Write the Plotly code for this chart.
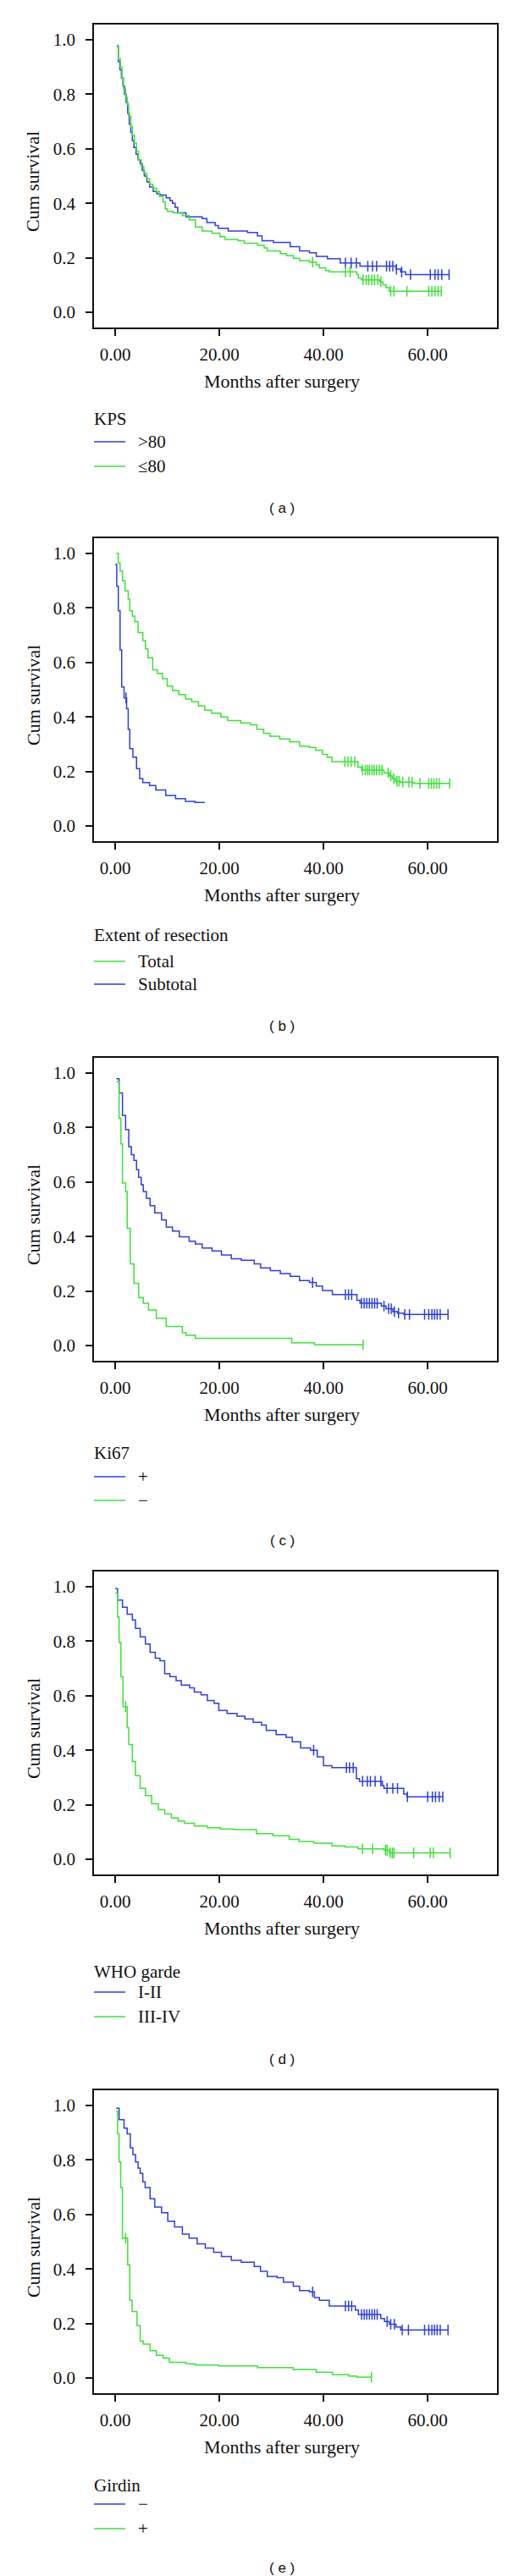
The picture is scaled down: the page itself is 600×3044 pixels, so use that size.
import plotly.graph_objects as go

W, H = 600, 3044
BLUE = "#2f3fd8"
GREEN = "#3fe03a"

# ---------------- data (months, cumulative survival) ----------------
a_blue_t = [0.3, 0.6, 0.9, 1.2, 1.5, 1.8, 2.1, 2.4, 2.7, 3.0, 3.3, 3.6, 4.0, 4.4, 4.8, 5.2, 5.6, 6.1, 6.6, 7.3, 8.0, 8.6, 9.8, 10.5, 11.0, 11.5, 12.0, 13.6, 16.7, 17.6, 19.2, 19.8, 21.7, 25.4, 27.3, 28.2, 30.4, 33.6, 35.4, 37.3, 38.6, 40.75, 43.2, 47.0, 53.9, 54.8, 55.75, 64.1]
a_blue_s = [0.975, 0.92, 0.89, 0.86, 0.83, 0.80, 0.77, 0.73, 0.69, 0.66, 0.63, 0.605, 0.58, 0.56, 0.545, 0.52, 0.50, 0.478, 0.46, 0.443, 0.435, 0.43, 0.42, 0.41, 0.40, 0.385, 0.365, 0.35, 0.344, 0.329, 0.318, 0.308, 0.298, 0.293, 0.28, 0.262, 0.256, 0.241, 0.225, 0.218, 0.205, 0.196, 0.181, 0.169, 0.158, 0.148, 0.138, 0.138]
a_blue_c = [44.2, 45.3, 46.3, 48.5, 49.4, 50.2, 52.1, 52.7, 53.3, 54.0, 55.0, 56.7, 60.5, 61.4, 62.0, 62.7, 64.1]
a_green_t = [0.3, 0.6, 1.0, 1.3, 1.6, 2.0, 2.3, 2.6, 3.0, 3.3, 3.7, 4.1, 4.5, 5.0, 5.5, 6.0, 6.6, 7.2, 7.9, 8.5, 9.2, 9.6, 10.0, 11.1, 12.9, 14.2, 15.4, 16.7, 18.6, 20.1, 21.1, 23.6, 24.8, 27.3, 28.6, 29.2, 31.7, 32.9, 34.2, 35.4, 37.3, 38.6, 39.2, 40.4, 41.1, 46.4, 46.7, 47.3, 50.75, 51.4, 52.0, 52.6, 62.6]
a_green_s = [0.98, 0.93, 0.90, 0.86, 0.82, 0.79, 0.76, 0.72, 0.68, 0.65, 0.62, 0.59, 0.56, 0.535, 0.51, 0.49, 0.47, 0.455, 0.443, 0.425, 0.405, 0.38, 0.37, 0.365, 0.355, 0.339, 0.313, 0.298, 0.29, 0.277, 0.267, 0.262, 0.253, 0.246, 0.236, 0.225, 0.215, 0.208, 0.198, 0.189, 0.184, 0.174, 0.163, 0.153, 0.148, 0.138, 0.125, 0.119, 0.112, 0.101, 0.091, 0.077, 0.077]
a_green_c = [37.9, 44.2, 45.1, 47.6, 48.2, 48.7, 49.3, 49.8, 50.4, 51.0, 52.9, 53.5, 56.0, 60.2, 60.8, 61.4, 62.0, 62.6]

b_total_t = [0.2, 0.6, 0.94, 1.4, 1.9, 2.5, 2.8, 3.3, 3.75, 4.4, 5.3, 5.8, 6.3, 7.2, 8.1, 9.1, 10.0, 11.0, 12.2, 13.5, 14.7, 16.0, 17.2, 18.5, 20.3, 21.6, 24.1, 26.0, 27.2, 28.5, 29.7, 31.6, 33.5, 35.4, 37.3, 38.5, 39.8, 40.7, 41.6, 46.6, 47.3, 51.6, 52.6, 53.2, 53.8, 54.8, 57.3, 64.2]
b_total_s = [1.0, 0.965, 0.936, 0.90, 0.863, 0.832, 0.79, 0.77, 0.75, 0.71, 0.68, 0.65, 0.617, 0.573, 0.56, 0.54, 0.513, 0.497, 0.482, 0.466, 0.456, 0.44, 0.425, 0.414, 0.40, 0.387, 0.378, 0.371, 0.355, 0.34, 0.329, 0.319, 0.309, 0.293, 0.288, 0.278, 0.262, 0.252, 0.236, 0.216, 0.205, 0.195, 0.184, 0.174, 0.164, 0.161, 0.156, 0.156]
b_total_c = [44.1, 44.7, 45.3, 46.0, 47.5, 48.0, 48.4, 48.8, 49.3, 49.7, 50.2, 50.7, 51.2, 52.4, 52.9, 53.5, 54.1, 54.5, 55.2, 56.4, 57.0, 58.5, 60.2, 60.7, 61.2, 61.7, 62.2, 64.2]
b_sub_t = [0.0, 0.3, 0.6, 0.94, 1.25, 1.7, 2.2, 2.5, 2.8, 3.4, 4.1, 4.7, 5.3, 6.6, 7.8, 9.7, 11.6, 13.5, 15.3, 17.2]
b_sub_s = [0.96, 0.88, 0.79, 0.646, 0.51, 0.47, 0.43, 0.355, 0.283, 0.252, 0.21, 0.174, 0.159, 0.148, 0.132, 0.112, 0.10, 0.09, 0.086, 0.086]
b_sub_c = [2.07]

c_pos_t = [0.2, 0.75, 1.4, 2.0, 2.6, 3.1, 3.6, 4.1, 4.5, 5.0, 5.4, 6.0, 6.7, 7.6, 8.9, 9.8, 11.0, 12.3, 14.2, 15.4, 16.7, 18.6, 20.4, 22.3, 24.2, 26.7, 27.9, 29.8, 31.7, 33.6, 35.4, 37.3, 38.6, 39.8, 41.7, 46.4, 47.0, 51.1, 52.0, 53.3, 54.2, 55.4, 63.9]
c_pos_s = [0.979, 0.927, 0.845, 0.793, 0.73, 0.70, 0.679, 0.645, 0.617, 0.59, 0.565, 0.54, 0.513, 0.487, 0.461, 0.435, 0.42, 0.399, 0.383, 0.373, 0.358, 0.347, 0.332, 0.318, 0.313, 0.30, 0.285, 0.275, 0.264, 0.254, 0.238, 0.231, 0.218, 0.202, 0.187, 0.166, 0.155, 0.145, 0.135, 0.124, 0.119, 0.114, 0.114]
c_pos_c = [37.9, 44.2, 44.8, 45.4, 47.3, 47.8, 48.3, 48.8, 49.3, 49.8, 50.3, 51.6, 52.5, 53.0, 53.6, 54.4, 55.6, 56.5, 59.4, 60.2, 60.8, 61.3, 61.8, 62.4, 63.9]
c_neg_t = [0.2, 0.75, 1.1, 1.4, 2.0, 2.3, 2.9, 3.6, 4.5, 5.4, 6.4, 7.9, 9.8, 12.9, 13.6, 15.4, 33.9, 38.25, 47.6]
c_neg_s = [0.969, 0.834, 0.74, 0.596, 0.565, 0.43, 0.30, 0.228, 0.176, 0.155, 0.13, 0.10, 0.07, 0.047, 0.038, 0.026, 0.010, 0.003, 0.003]
c_neg_c = [47.6]

d_low_t = [0.0, 0.44, 1.4, 2.3, 3.3, 3.9, 4.8, 5.8, 6.7, 7.7, 8.6, 9.5, 10.5, 11.7, 12.7, 14.3, 15.2, 16.5, 17.7, 19.0, 19.9, 21.5, 23.4, 24.9, 26.5, 28.1, 29.0, 30.9, 32.8, 34.0, 35.6, 37.5, 38.8, 40.0, 41.6, 46.3, 46.9, 51.3, 51.6, 55.4, 56.0, 62.9]
d_low_s = [0.993, 0.951, 0.925, 0.899, 0.878, 0.847, 0.816, 0.79, 0.759, 0.738, 0.728, 0.681, 0.67, 0.655, 0.639, 0.629, 0.613, 0.603, 0.582, 0.572, 0.546, 0.535, 0.525, 0.515, 0.502, 0.492, 0.473, 0.457, 0.447, 0.431, 0.408, 0.40, 0.376, 0.343, 0.336, 0.296, 0.286, 0.27, 0.26, 0.239, 0.229, 0.229]
d_low_c = [38.1, 44.4, 45.0, 45.7, 47.5, 48.4, 49.0, 49.9, 51.0, 52.2, 53.3, 54.2, 56.1, 60.0, 60.9, 61.5, 62.2, 62.9]
d_high_t = [0.0, 0.44, 0.75, 1.1, 1.5, 2.3, 2.6, 3.3, 3.9, 4.8, 5.8, 7.0, 8.3, 9.5, 10.8, 12.1, 13.3, 15.2, 17.7, 20.2, 22.7, 27.1, 30.3, 33.4, 35.3, 38.1, 41.6, 44.1, 46.6, 51.6, 52.6, 64.3]
d_high_s = [0.977, 0.889, 0.795, 0.67, 0.56, 0.483, 0.421, 0.359, 0.307, 0.26, 0.234, 0.203, 0.182, 0.166, 0.151, 0.14, 0.132, 0.122, 0.116, 0.111, 0.109, 0.094, 0.086, 0.073, 0.065, 0.059, 0.049, 0.045, 0.038, 0.033, 0.023, 0.023]
d_high_c = [2.0, 47.5, 49.4, 51.9, 52.2, 52.8, 53.2, 53.5, 57.3, 60.5, 61.1, 64.3]

e_neg_t = [0.2, 0.75, 1.7, 2.3, 2.9, 3.4, 3.9, 4.4, 4.8, 5.3, 5.75, 6.7, 7.6, 8.9, 10.1, 11.4, 12.9, 14.2, 15.75, 17.3, 18.9, 20.4, 22.3, 24.2, 26.7, 27.9, 29.2, 31.1, 32.3, 34.2, 35.4, 37.3, 38.25, 39.2, 41.1, 46.1, 46.7, 51.0, 51.7, 52.6, 53.9, 54.8, 63.9]
e_neg_s = [0.99, 0.948, 0.917, 0.896, 0.845, 0.82, 0.793, 0.77, 0.751, 0.72, 0.699, 0.658, 0.627, 0.606, 0.575, 0.554, 0.528, 0.513, 0.492, 0.477, 0.461, 0.446, 0.432, 0.425, 0.409, 0.391, 0.373, 0.368, 0.352, 0.337, 0.321, 0.316, 0.295, 0.285, 0.264, 0.249, 0.233, 0.218, 0.207, 0.197, 0.187, 0.176, 0.176]
e_neg_c = [37.9, 44.2, 44.8, 45.4, 47.3, 47.8, 48.3, 48.8, 49.3, 49.8, 50.3, 52.2, 52.9, 53.6, 55.1, 56.3, 59.4, 60.2, 60.8, 61.3, 61.8, 62.4, 63.9]
e_pos_t = [0.2, 0.44, 0.75, 1.06, 1.4, 2.4, 2.8, 3.25, 4.2, 4.8, 5.4, 6.7, 7.9, 9.2, 10.4, 13.6, 15.4, 19.8, 27.3, 34.2, 38.6, 41.7, 44.8, 46.4, 49.2]
e_pos_s = [0.979, 0.896, 0.793, 0.699, 0.513, 0.415, 0.285, 0.244, 0.192, 0.135, 0.124, 0.10, 0.083, 0.073, 0.057, 0.052, 0.047, 0.044, 0.038, 0.031, 0.021, 0.012, 0.007, 0.003, 0.003]
e_pos_c = [2.0, 49.2]

x_tick_vals = [0, 20, 40, 60]
x_tick_text = ["0.00", "20.00", "40.00", "60.00"]
y_tick_vals = [0.0, 0.2, 0.4, 0.6, 0.8, 1.0]
y_tick_text = ["0.0", "0.2", "0.4", "0.6", "0.8", "1.0"]

panels = [
    dict(tag="a", title="KPS", series=[(">80", BLUE, a_blue_t, a_blue_s, a_blue_c), ("≤80", GREEN, a_green_t, a_green_s, a_green_c)]),
    dict(tag="b", title="Extent of resection", series=[("Total", GREEN, b_total_t, b_total_s, b_total_c), ("Subtotal", BLUE, b_sub_t, b_sub_s, b_sub_c)]),
    dict(tag="c", title="Ki67", series=[("+", BLUE, c_pos_t, c_pos_s, c_pos_c), ("\u2212", GREEN, c_neg_t, c_neg_s, c_neg_c)]),
    dict(tag="d", title="WHO garde", series=[("I-II", BLUE, d_low_t, d_low_s, d_low_c), ("III-IV", GREEN, d_high_t, d_high_s, d_high_c)]),
    dict(tag="e", title="Girdin", series=[("\u2212", BLUE, e_neg_t, e_neg_s, e_neg_c), ("+", GREEN, e_pos_t, e_pos_s, e_pos_c)]),
]

# ---------------- layout (pixel positions) ----------------
box_tops = [21, 628, 1242, 1849, 2462]
leg_title_y = [487, 1097, 1709, 2322, 2929]
leg_item1_y = [514, 1128, 1737, 2346, 2951]
leg_step = [29, 27, 28, 29, 29]
caption_y = [592, 1205, 1812, 2425, 3026]

BOX_L, BOX_R, BOX_H = 103, 579, 358
SERIF = "Liberation Serif, Times New Roman, serif"
SANS = "Liberation Sans, Arial, sans-serif"


def px_x(p):
    return p / W


def px_y(p):
    return 1 - p / H


def surv_at(ts, ss, tc):
    val = ss[0]
    for t, s in zip(ts, ss):
        if t <= tc:
            val = s
    return val


fig = go.Figure()
layout = dict(width=W, height=H, margin=dict(l=0, r=0, t=0, b=0),
              paper_bgcolor="white", plot_bgcolor="white", showlegend=False)
annotations, shapes = [], []

for i, (p, top) in enumerate(zip(panels, box_tops), start=1):
    xa = "x" if i == 1 else f"x{i}"
    ya = "y" if i == 1 else f"y{i}"
    sfx = "" if i == 1 else str(i)
    layout[f"xaxis{sfx}"] = dict(
        domain=[px_x(BOX_L), px_x(BOX_R)], anchor=ya, range=[-4.07, 73.3],
        tickvals=x_tick_vals, ticktext=x_tick_text, ticks="outside", ticklen=8, tickwidth=1.5,
        tickcolor="#111", showline=True, linecolor="#111", linewidth=1.5, mirror=True,
        showgrid=False, zeroline=False, ticklabelstandoff=4,
        tickfont=dict(family=SERIF, size=21, color="#111"))
    layout[f"yaxis{sfx}"] = dict(
        domain=[px_y(top + BOX_H), px_y(top)], anchor=xa, range=[-0.056, 1.056],
        tickvals=y_tick_vals, ticktext=y_tick_text, ticks="outside", ticklen=8, tickwidth=1.5,
        tickcolor="#111", showline=True, linecolor="#111", linewidth=1.5, mirror=True,
        showgrid=False, zeroline=False, ticklabelstandoff=8,
        tickfont=dict(family=SERIF, size=21, color="#111"))

    for name, color, ts, ss, cs in p["series"]:
        fig.add_trace(go.Scatter(x=ts, y=ss, mode="lines", line=dict(color=color, width=1.5, shape="hv"),
                                 xaxis=xa, yaxis=ya, name=name, hoverinfo="skip"))
        fig.add_trace(go.Scatter(x=cs, y=[surv_at(ts, ss, c) for c in cs], mode="markers",
                                 marker=dict(symbol="line-ns-open", size=9, color=color,
                                             line=dict(color=color, width=1.5)),
                                 xaxis=xa, yaxis=ya, name=name, hoverinfo="skip"))

    annotations.append(dict(text="Cum survival", x=px_x(31), y=px_y(top + 186), xref="paper", yref="paper",
                            textangle=-90, showarrow=False, xanchor="center", yanchor="middle",
                            font=dict(family=SERIF, size=22, color="#111")))
    annotations.append(dict(text="Months after surgery", x=px_x(325), y=px_y(top + 421), xref="paper", yref="paper",
                            showarrow=False, xanchor="center", yanchor="middle",
                            font=dict(family=SERIF, size=22, color="#111")))
    annotations.append(dict(text=p["title"], x=px_x(101), y=px_y(leg_title_y[i - 1]), xref="paper", yref="paper",
                            showarrow=False, xanchor="left", yanchor="middle",
                            font=dict(family=SERIF, size=21, color="#111")))
    for k, (name, color, *_rest) in enumerate(p["series"]):
        yy = leg_item1_y[i - 1] + leg_step[i - 1] * k
        shapes.append(dict(type="line", xref="paper", yref="paper", x0=px_x(103), x1=px_x(140),
                           y0=px_y(yy), y1=px_y(yy), line=dict(color=color, width=1.5)))
        annotations.append(dict(text=name, x=px_x(153), y=px_y(yy), xref="paper", yref="paper",
                                showarrow=False, xanchor="left", yanchor="middle",
                                font=dict(family=SERIF, size=21, color="#111")))
    annotations.append(dict(text=f"( {p['tag']} )", x=px_x(325), y=px_y(caption_y[i - 1]), xref="paper", yref="paper",
                            showarrow=False, xanchor="center", yanchor="middle",
                            font=dict(family=SANS, size=17, color="#111")))

layout["annotations"] = annotations
layout["shapes"] = shapes
fig.update_layout(**layout)
fig.write_html("out.html")
